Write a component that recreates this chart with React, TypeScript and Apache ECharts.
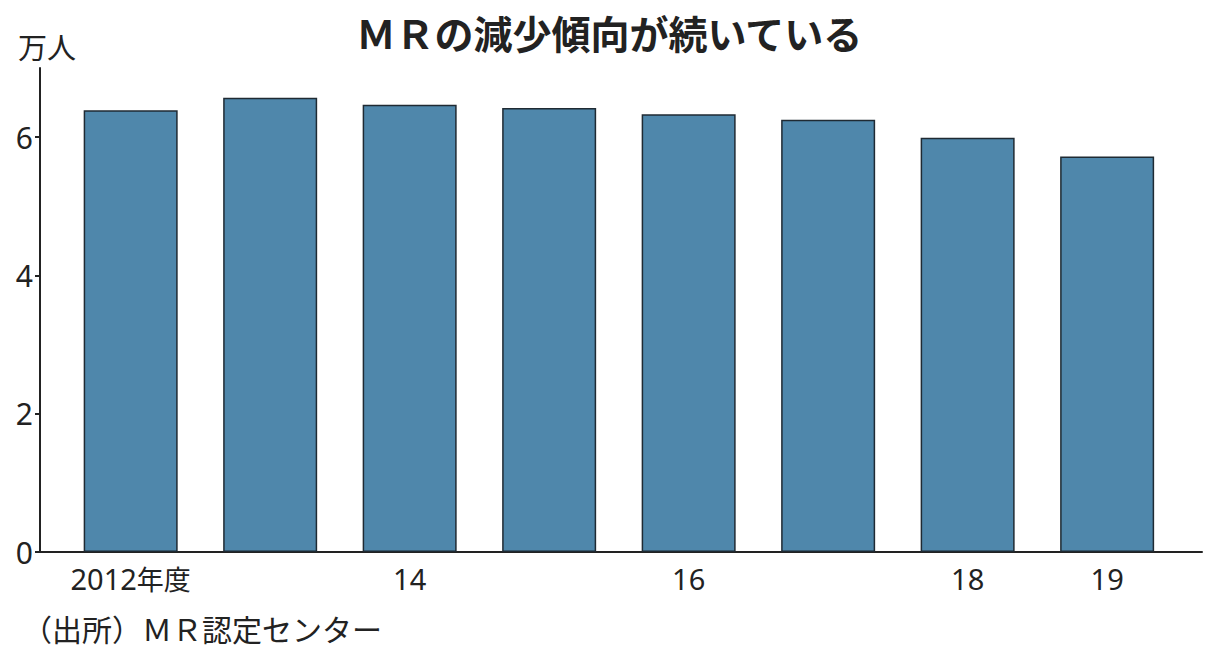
import React, { useEffect, useRef } from 'react';
import * as echarts from 'echarts';

// 年度とMR数（万人）
const years = [2012, 2013, 2014, 2015, 2016, 2017, 2018, 2019];
const mrCounts = [6.39, 6.57, 6.47, 6.42, 6.33, 6.25, 5.99, 5.72];
const yearTicks = [2012, 2014, 2016, 2018, 2019];
const yearLabels: Record<number, string> = {
    2012: '2012{k|年度}',
    2014: '14',
    2016: '16',
    2018: '18',
    2019: '19',
};
const valueTicks = [0, 2, 4, 6];

const NUM_FONT = '"Noto Sans", "Noto Sans CJK JP", sans-serif';
const JP_FONT = '"Noto Sans CJK JP", sans-serif';

const App: React.FC = () => {
    const chartRef = useRef<HTMLDivElement>(null);

    useEffect(() => {
        if (!chartRef.current) return;
        const chart = echarts.init(chartRef.current, undefined, { renderer: 'svg' });

        chart.setOption({
            animation: false,
            backgroundColor: '#ffffff',
            grid: { left: 40, right: 18, top: 68, bottom: 108 },
            graphic: [
                {
                    type: 'text',
                    left: 'center',
                    top: 12,
                    style: {
                        text: 'ＭＲの減少傾向が続いている',
                        font: `bold 39px ${JP_FONT}`,
                        fill: '#222',
                    },
                },
                {
                    type: 'text',
                    left: 18,
                    top: 31,
                    style: { text: '万人', font: `29px ${JP_FONT}`, fill: '#222' },
                },
                {
                    type: 'text',
                    left: 22,
                    top: 613,
                    style: { text: '（出所）ＭＲ認定センター', font: `30px ${JP_FONT}`, fill: '#222' },
                },
            ],
            xAxis: {
                type: 'value',
                min: 2011.35,
                max: 2019.68,
                splitLine: { show: false },
                axisLine: { show: true, lineStyle: { color: '#222', width: 2 } },
                axisTick: { show: false },
                axisLabel: {
                    customValues: yearTicks,
                    margin: 12,
                    color: '#222',
                    fontSize: 29,
                    fontFamily: NUM_FONT,
                    formatter: (v: number) => yearLabels[v] ?? '',
                    rich: {
                        k: { fontSize: 27, fontFamily: JP_FONT, color: '#222' },
                    },
                },
            },
            yAxis: {
                type: 'value',
                min: 0,
                max: 7,
                splitLine: { show: false },
                axisLine: { show: true, lineStyle: { color: '#222', width: 2 } },
                axisTick: {
                    show: true,
                    customValues: valueTicks,
                    length: 5,
                    lineStyle: { color: '#222', width: 2 },
                },
                axisLabel: {
                    customValues: valueTicks,
                    margin: 7,
                    color: '#222',
                    fontSize: 30,
                    fontFamily: NUM_FONT,
                },
            },
            series: [
                {
                    type: 'bar',
                    data: years.map((y, i) => [y, mrCounts[i]]),
                    barWidth: 94,
                    itemStyle: {
                        color: '#4f87ab',
                        borderColor: '#1f2a33',
                        borderWidth: 1.5,
                    },
                },
            ],
        });

        return () => chart.dispose();
    }, []);

    return <div ref={chartRef} style={{ width: 1220, height: 660, margin: -8 }} />;
};

export default App;
